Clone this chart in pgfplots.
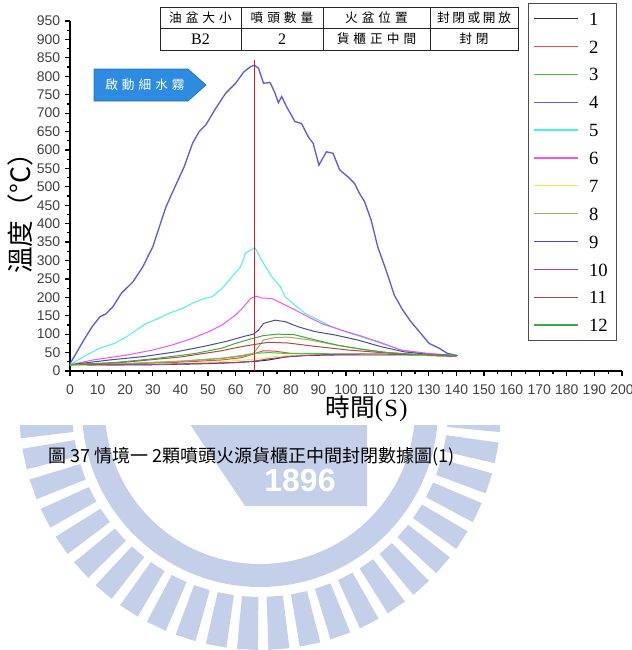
\documentclass[border=0pt]{standalone}
\usepackage{pgfplots}
\pgfplotsset{compat=1.18}
\usepackage{fontspec}
\setmainfont{Liberation Serif}
\newfontfamily\cjk{Noto Sans CJK TC}
\newfontfamily\arial{Liberation Sans}
\definecolor{sA}{HTML}{2A2A2A}
\definecolor{sB}{HTML}{F04848}
\definecolor{sC}{HTML}{38CC38}
\definecolor{sD}{HTML}{5C5CE0}
\definecolor{sE}{HTML}{48EEEE}
\definecolor{sF}{HTML}{F055F0}
\definecolor{sG}{HTML}{F0F040}
\definecolor{sH}{HTML}{A8A860}
\definecolor{sI}{HTML}{4A4AA0}
\definecolor{sJ}{HTML}{A040B0}
\definecolor{sK}{HTML}{B04848}
\definecolor{sL}{HTML}{40A840}
\definecolor{vred}{RGB}{235,25,25}
\definecolor{arrowblue}{RGB}{45,140,225}
\definecolor{wm}{RGB}{196,208,234}
\begin{document}
\begin{tikzpicture}
\useasboundingbox (0,0) rectangle (474pt,-487.5pt);
% faint watermark below the chart
\begin{scope}[x=0.75pt, y=-0.75pt]
  \clip (0,425) rectangle (632,650);
  \begin{scope}[shift={(260,409)}]
    \foreach \a in {3,10.5,...,180} {
      \fill[wm] (\a-2.5:188) -- (\a-2.5:241) -- (\a+2.5:241) -- (\a+2.5:188) -- cycle;
    }
    \fill[wm, even odd rule] (0,0) circle[radius=178] (0,0) circle[radius=155];
  \end{scope}
  \fill[wm] (187,420) -- (367,420) -- (367,506) -- (245,506) -- cycle;
  \node[text=white, font=\arial\bfseries\fontsize{24}{24}\selectfont, inner sep=0pt, text height=17.2pt, text depth=0pt] at (300,480) {1896};
\end{scope}
\begin{axis}[
  at={(52.5pt,-278.25pt)}, anchor=south west,
  scale only axis, width=414pt, height=262.5pt,
  xmin=0, xmax=200, ymin=0, ymax=950,
  axis x line*=bottom, axis y line*=left,
  axis line style={line width=1.2pt, black},
  xtick distance=10, ytick distance=50,
  minor x tick num=1, minor y tick num=1,
  tick align=outside,
  major tick length=3.75pt, minor tick length=2.25pt,
  every tick/.style={black, line width=0.9pt},
  /pgf/number format/assume math mode=true,
  /pgf/number format/1000 sep={},
  tick label style={font=\arial\fontsize{10.5}{10.5}\selectfont, text=black!75},
  xticklabel style={yshift=-3pt},
  clip=false,
  legend style={at={(rel axis cs:0.829,1.051)}, anchor=north west,
    draw=black!70, line width=0.6pt, inner xsep=4pt, inner ysep=5.25pt,
    font=\fontsize{14}{14}\selectfont, row sep=8.9pt, column sep=5pt,
    nodes={inner xsep=2.75pt, inner ysep=1pt, text height=10pt, text depth=0pt}},
  legend cell align=left,
  legend image code/.code={\draw[#1, line width=1pt] (0pt,0pt) -- (33pt,0pt);},
]
\addplot[sA, line width=0.75pt] coordinates {(0,15)(30,17)(50,20)(60,23)(67,26)(72,30)(78,38)(85,42)(100,44)(120,44)(140,40)};
\addlegendentry{1}
\addplot[sB, line width=0.75pt] coordinates {(0,17)(20,19)(40,24)(55,30)(62,36)(66,45)(70,55)(74,54)(80,48)(90,46)(110,45)(125,44)(140,40)};
\addlegendentry{2}
\addplot[sC, line width=0.75pt] coordinates {(0,17)(20,20)(40,26)(55,34)(62,40)(67,48)(72,50)(80,47)(90,47)(110,46)(125,44)(140,42)};
\addlegendentry{3}
\addplot[sD, line width=1pt] coordinates {(0,20)(2,45)(5,84)(8,120)(10.8,147)(13,155)(15.6,175)(18.6,211)(22.8,242)(26.4,283)(30,337)(32.4,392)(34.8,446)(37.8,496)(41.4,555)(44.4,618)(46.8,650)(49.2,668)(52.8,713)(56.4,754)(60,781)(63,812)(65.4,826)(66.8,830)(68.3,822)(70.1,781)(72.5,783)(74.3,754)(75.5,728)(76.7,745)(78.5,717)(81.5,677)(83.9,672)(86.3,636)(88.1,618)(90.2,559)(92.9,595)(95.3,591)(97.7,546)(100.7,527)(103.1,509)(104.9,482)(106.7,460)(109.1,410)(111.5,337)(114.5,274)(117.5,206)(120.5,166)(123.5,134)(127.1,102)(130.1,75)(133.7,62)(136.7,48)(139.7,43)(140.5,42)};
\addlegendentry{4}
\addplot[sE, line width=0.75pt] coordinates {(0,17)(3,30)(6,43)(10.8,62)(16.2,75)(20.4,93)(24,111)(27.6,129)(31.2,140)(36,157)(40.8,170)(44.4,184)(48,195)(51.6,202)(55.1,224)(58.7,256)(61.8,283)(63.6,320)(65.4,328)(67,335)(70.1,292)(73.1,256)(76.2,229)(77.9,202)(81.5,179)(85.1,157)(88.7,143)(93.5,125)(99.5,107)(105.5,93)(112.7,75)(119.9,57)(127.1,48)(134,44)(140,42)};
\addlegendentry{5}
\addplot[sF, line width=0.75pt] coordinates {(0,17)(8.4,30)(20.4,43)(30,57)(37.2,71)(44.4,89)(50.4,107)(55.1,125)(60,152)(63,175)(65.4,197)(67.5,203)(69.5,198)(73.1,197)(76.7,184)(81.5,166)(86.3,147)(91.1,129)(98.3,111)(105.5,95)(112.7,77)(119.9,57)(129.5,48)(140,42)};
\addlegendentry{6}
\addplot[sG, line width=0.75pt] coordinates {(0,15)(30,18)(50,23)(60,28)(67,32)(75,40)(85,44)(100,45)(120,44)(140,42)};
\addlegendentry{7}
\addplot[sH, line width=0.75pt] coordinates {(0,17)(20,20)(40,27)(55,35)(62,42)(66.5,48)(68.3,66)(70.1,84)(74.3,91)(79,92)(86.3,85)(96,71)(105.5,59)(115,50)(125,45)(140,42)};
\addlegendentry{8}
\addplot[sI, line width=0.75pt] coordinates {(0,17)(14.4,30)(26.4,39)(38.4,52)(48,66)(56.4,80)(63.6,95)(66.5,100)(68.3,111)(70.1,129)(74.3,138)(77.9,134)(82.7,120)(88.7,107)(95.9,98)(104.3,84)(112.7,66)(121.1,52)(130,45)(140,42)};
\addlegendentry{9}
\addplot[sJ, line width=0.75pt] coordinates {(0,17)(30,18)(50,21)(60,23)(67,27)(72,33)(80,40)(90,44)(110,46)(130,44)(140,42)};
\addlegendentry{10}
\addplot[sK, line width=0.75pt] coordinates {(0,17)(20,24)(40,38)(55,55)(62,66)(66,71)(72,78)(79,76)(88.7,67)(100.7,57)(112.7,50)(125,45)(140,42)};
\addlegendentry{11}
\addplot[sL, line width=0.75pt] coordinates {(0,17)(15,22)(30,33)(45,47)(55,62)(60,75)(66,88)(70,96)(75,100)(81,99)(88,86)(97,70)(105,60)(115,50)(125,45)(140,42)};
\addlegendentry{12}
\addplot[draw=vred, line width=1.2pt, forget plot] coordinates {(66.8,0)(66.8,845)};
\end{axis}
\begin{scope}[x=0.75pt, y=-0.75pt]
  % table
  \draw[black!85, line width=0.7pt] (160,7) rectangle (518,50);
  \draw[black!85, line width=0.7pt] (160,28) -- (518,28);
  \foreach \xx in {241,323,430} \draw[black!85, line width=0.7pt] (\xx,7) -- (\xx,50);
  \begin{scope}[every node/.style={font=\cjk\fontsize{9.5}{9.5}\selectfont, inner sep=0pt}]
    \node at (200.5,17.5) {油\kern3pt 盆\kern3pt 大\kern3pt 小};
    \node at (282,17.5) {噴\kern3pt 頭\kern3pt 數\kern3pt 量};
    \node at (376.5,17.5) {火\kern3pt 盆\kern3pt 位\kern3pt 置};
    \node at (474,17.5) {封\kern2pt 閉\kern2pt 或\kern2pt 開\kern2pt 放};
    \node[font=\fontsize{12}{12}\selectfont] at (200.5,39) {B2};
    \node[font=\fontsize{12}{12}\selectfont] at (282,39) {2};
    \node at (376.5,39) {貨\kern3pt 櫃\kern3pt 正\kern3pt 中\kern3pt 間};
    \node at (474,39) {封\kern3pt 閉};
  \end{scope}
  % arrow label
  \filldraw[fill=arrowblue, draw=arrowblue!80!black, line width=0.5pt] (94,69) -- (188,69) -- (206,85) -- (188,101) -- (94,101) -- cycle;
  \node[text=white, font=\cjk\fontsize{9.5}{9.5}\selectfont, inner sep=0pt] at (145,85) {啟\kern3pt 動\kern3pt 細\kern3pt 水\kern3pt 霧};
  % axis titles
  \node[rotate=90, font=\cjk\fontsize{20}{20}\selectfont, inner sep=0pt] at (20,207) {溫度（°C）};
  \node[font=\fontsize{18.5}{18.5}\selectfont, inner sep=0pt, text height=11pt, text depth=1pt] at (366.5,410) {{\cjk 時間}(\kern1pt S\kern1pt)};
  % caption
  \node[font=\cjk\fontsize{13.5}{13.5}\selectfont, inner sep=0pt] at (251.5,457) {圖 37 情境一 2顆噴頭火源貨櫃正中間封閉數據圖(1)};
\end{scope}
\end{tikzpicture}
\end{document}
